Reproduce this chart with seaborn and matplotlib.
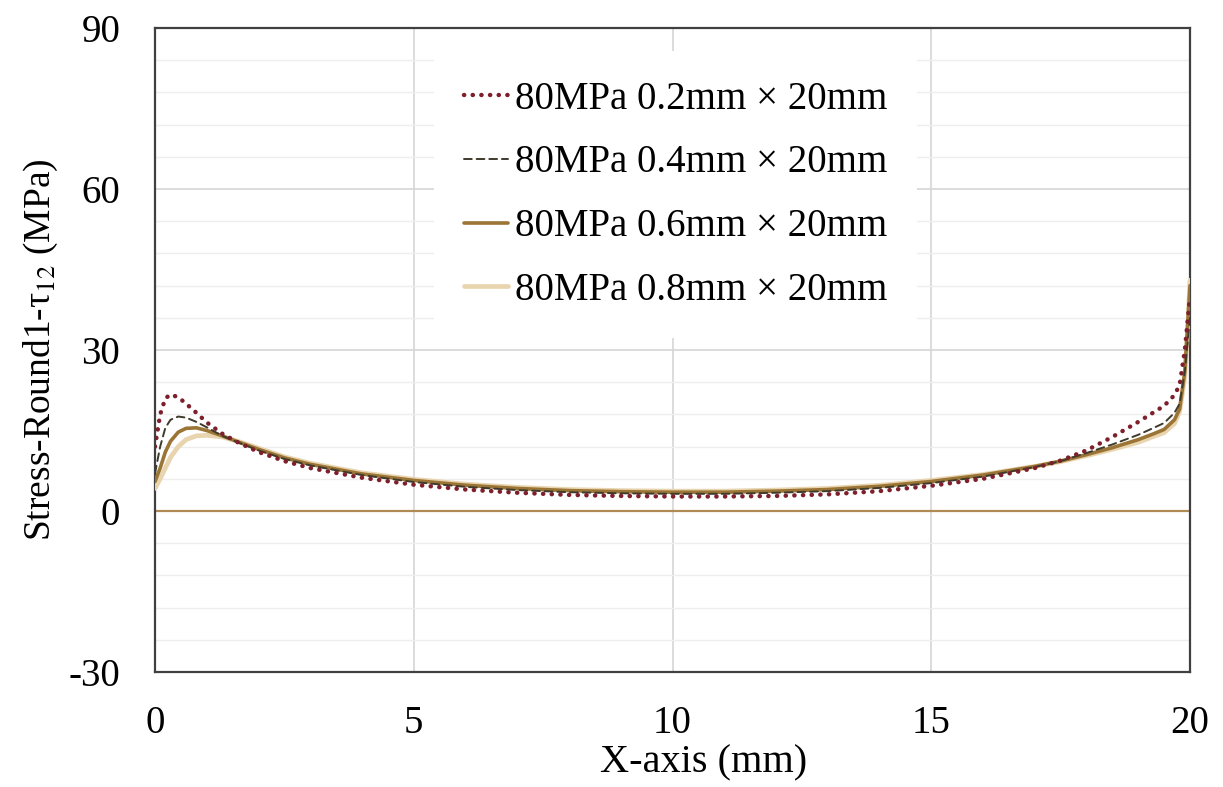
import numpy as np
import pandas as pd
import matplotlib
matplotlib.use("Agg")
import matplotlib.pyplot as plt
from matplotlib.lines import Line2D
import seaborn as sns

# ---- data ----
x_mm = [0, 0.1, 0.2, 0.3, 0.45, 0.6, 0.8, 1.0, 1.3, 1.6, 2.0, 2.5, 3, 4, 5, 6, 7, 8, 9,
        10, 11, 12, 13, 14, 15, 16, 17, 17.5, 18, 18.5, 19, 19.3, 19.5, 19.7, 19.8,
        19.9, 19.95, 20]
s_02 = [12.0, 18.0, 21.0, 21.7, 21.2, 20.0, 18.3, 16.5, 14.4, 12.8, 11.0, 9.3, 8.0, 6.2, 4.9,
        4.0, 3.4, 3.0, 2.8, 2.7, 2.7, 2.8, 3.1, 3.7, 4.7, 6.0, 8.0, 9.4, 11.3, 13.8, 16.6,
        18.4, 19.6, 21.6, 23.5, 30.0, 35.0, 40.0]
s_04 = [7.0, 12.0, 15.5, 17.0, 17.6, 17.4, 16.6, 15.6, 14.0, 12.8, 11.3, 9.7, 8.5, 6.7, 5.4,
        4.5, 3.9, 3.5, 3.3, 3.2, 3.2, 3.4, 3.7, 4.3, 5.2, 6.4, 8.2, 9.3, 10.8, 12.4, 14.2,
        15.5, 16.4, 18.3, 20.0, 26.0, 31.0, 36.0]
s_06 = [5.5, 8.0, 11.0, 13.0, 14.7, 15.4, 15.5, 15.0, 14.0, 12.9, 11.5, 9.9, 8.7, 6.9, 5.7,
        4.8, 4.2, 3.8, 3.6, 3.5, 3.5, 3.7, 4.0, 4.6, 5.5, 6.7, 8.3, 9.3, 10.5, 11.8, 13.3,
        14.4, 15.2, 17.0, 19.0, 26.0, 34.0, 42.0]
s_08 = [4.2, 6.0, 8.0, 10.0, 12.0, 13.3, 14.0, 14.1, 13.8, 13.0, 11.7, 10.1, 8.9, 7.1, 5.9,
        5.0, 4.4, 4.0, 3.8, 3.7, 3.7, 3.9, 4.2, 4.8, 5.7, 6.8, 8.3, 9.2, 10.3, 11.5, 12.8,
        13.9, 14.6, 16.3, 18.5, 25.0, 33.0, 43.0]
labels = ["80MPa 0.2mm × 20mm", "80MPa 0.4mm × 20mm",
          "80MPa 0.6mm × 20mm", "80MPa 0.8mm × 20mm"]
x_ticks = [0, 5, 10, 15, 20]
y_ticks = [-30, 0, 30, 60, 90]

# ---- styling ----
sns.set_theme(style="white")
plt.rcParams["font.family"] = ["Liberation Serif", "DejaVu Serif"]
plt.rcParams["mathtext.fontset"] = "stix"
plt.rcParams["text.color"] = "black"
plt.rcParams["axes.labelcolor"] = "black"

colors = ["#7E1F2C", "#3E3B2C", "#9B7535", "#E9D4B0"]
widths = [3.2, 1.4, 2.6, 3.4]
styles = [(0, (0.05, 1.9)), (0, (4, 2.5)), "-", "-"]

fig = plt.figure(figsize=(12.23, 7.87), dpi=100)
ax = fig.add_axes([155 / 1223, 1 - 672 / 787, (1190 - 155) / 1223, (672 - 28) / 787])

series = [s_02, s_04, s_06, s_08]
order = [3, 2, 1, 0]
for i in order:
    df = pd.DataFrame({"x": x_mm, "y": series[i]})
    sns.lineplot(data=df, x="x", y="y", ax=ax, color=colors[i], linewidth=widths[i],
                 linestyle=styles[i], dash_capstyle="round", solid_capstyle="round",
                 zorder=3 + (3 - i), legend=False)

ax.axhline(0, color="#B08A55", linewidth=1.6, zorder=2)

ax.set_xlim(0, 20)
ax.set_ylim(-30, 90)
ax.set_xticks(x_ticks)
ax.set_xticklabels([str(t) for t in x_ticks])
ax.set_yticks(y_ticks)
ax.set_yticklabels([str(t) for t in y_ticks])
ax.set_yticks(np.arange(-30, 91, 6), minor=True)
ax.grid(False)
ax.grid(axis="x", which="major", color="#D6D6D6", linewidth=1.2, zorder=0)
ax.grid(axis="y", which="major", color="#D6D6D6", linewidth=1.2, zorder=0)
ax.grid(axis="y", which="minor", color="#EEEEEE", linewidth=1.0, zorder=0)
ax.tick_params(axis="both", which="both", length=0, labelsize=28, colors="black")
ax.tick_params(axis="x", pad=24)
ax.tick_params(axis="y", pad=25)

for sp in ax.spines.values():
    sp.set_color("#404040")
    sp.set_linewidth(1.6)
    sp.set_visible(True)

ax.set_xlabel("X-axis (mm)", fontsize=29)
ax.xaxis.set_label_coords(0.53, -0.112)
ax.set_ylabel("Stress-Round1-τ$_{12}$ (MPa)", fontsize=27, labelpad=6)

handles = [Line2D([0], [0], color=colors[i], linewidth=widths[i], linestyle=styles[i],
                  dash_capstyle="round") for i in range(4)]
leg = ax.legend(handles, labels, loc="center", bbox_to_anchor=(0.503, 0.741),
                fontsize=28, frameon=True, facecolor="white", edgecolor="none",
                framealpha=1, handlelength=1.15, handletextpad=0.18, labelspacing=0.69,
                borderpad=0.75, borderaxespad=0)
leg.set_zorder(10)

fig.savefig("out.png", dpi=100, facecolor="white")
